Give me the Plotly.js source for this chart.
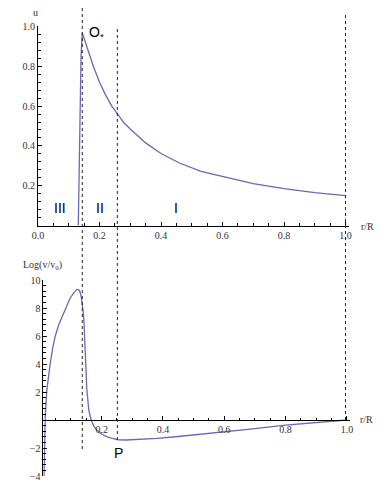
<!DOCTYPE html>
<html>
<head>
<meta charset="utf-8">
<script src="https://cdn.plot.ly/plotly-3.0.1.min.js"></script>
<style>
  html, body { margin: 0; padding: 0; background: white; }
  #figure { width: 386px; height: 491px; }
</style>
</head>
<body>
<div id="figure"></div>
<script>
// Upper panel: u against r/R
const rTop = [0.131, 0.134, 0.137, 0.140, 0.144, 0.150, 0.160, 0.170, 0.180, 0.200,
              0.220, 0.240, 0.258, 0.280, 0.300, 0.350, 0.400, 0.460, 0.530, 0.600,
              0.700, 0.800, 0.900, 1.000];
const uTop = [0.00, 0.30, 0.63, 0.85, 0.968, 0.94, 0.89, 0.845, 0.80, 0.72,
              0.655, 0.60, 0.56, 0.515, 0.485, 0.415, 0.362, 0.314, 0.272, 0.245,
              0.21, 0.185, 0.165, 0.15];

// Lower panel: Log(v/v0) against r/R
const rBottom = [0.012, 0.014, 0.016, 0.021, 0.026, 0.032, 0.040, 0.048, 0.060, 0.075,
                 0.086, 0.097, 0.108, 0.119, 0.125, 0.129, 0.133, 0.137, 0.140, 0.142,
                 0.145, 0.147, 0.149, 0.151, 0.154, 0.158, 0.163, 0.168, 0.175, 0.184,
                 0.200, 0.216, 0.235, 0.254, 0.280, 0.320, 0.380, 0.450, 0.520, 0.600,
                 0.700, 0.800, 0.900, 1.000];
const logV = [-4.0, -1.5, 0.3, 2.1, 3.2, 4.0, 5.1, 5.95, 6.8, 7.6,
              8.2, 8.7, 9.05, 9.33, 9.3, 9.17, 8.85, 8.33, 7.7, 7.14,
              5.9, 4.76, 3.6, 2.38, 1.4, 0.71, 0.25, -0.12, -0.45, -0.71,
              -1.0, -1.19, -1.32, -1.41, -1.43, -1.40, -1.31, -1.18, -1.03, -0.86,
              -0.62, -0.37, -0.17, 0.0];

// Zone boundaries (dotted lines) and zone names
const zoneEdges = [0.144, 0.258, 1.0];
const zoneNames = ['III', 'II', 'I'];
const zoneNameX = [0.07, 0.2, 0.448];

// Tick labels
const topXTicks = [0, 0.2, 0.4, 0.6, 0.8, 1.0];
const topXText = ['0.0', '0.2', '0.4', '0.6', '0.8', '1.0'];
const topYTicks = [0.2, 0.4, 0.6, 0.8, 1.0];
const topYText = ['0.2', '0.4', '0.6', '0.8', '1.0'];
const botXTicks = [0.2, 0.4, 0.6, 0.8, 1.0];
const botXText = ['0.2', '0.4', '0.6', '0.8', '1.0'];
const botYTicks = [-4, -2, 2, 4, 6, 8, 10];

const W = 386, H = 491;
const curveColor = '#6868b8';
const serif = 'Liberation Serif, DejaVu Serif, serif';
const tickFont = { family: serif, size: 10, color: '#3a3030' };
const labelFont = { family: 'Liberation Sans, Arial, sans-serif', size: 14, color: '#000000' };

// pixel helpers for paper coordinates
function px(x) { return x / W; }
function py(y) { return 1 - y / H; }

function axisStyle(extra) {
  let base = {
    showline: true, linecolor: 'black', linewidth: 1,
    ticks: 'inside', ticklen: 4, tickcolor: 'black', tickwidth: 1,
    showgrid: false, zeroline: false,
    tickfont: tickFont,
    fixedrange: true
  };
  return Object.assign(base, extra);
}

var traces = [
  { x: rTop, y: uTop, xaxis: 'x', yaxis: 'y', mode: 'lines',
    line: { color: curveColor, width: 1.3 }, hoverinfo: 'skip' },
  { x: rBottom, y: logV, xaxis: 'x2', yaxis: 'y2', mode: 'lines',
    line: { color: curveColor, width: 1.3 }, hoverinfo: 'skip' }
];

// dotted boundary lines: [top px, bottom px] of each
const edgeSpan = [[8, 449], [27, 440], [15, 420]];
var shapes = zoneEdges.map(function(r, i) {
  return {
    type: 'line', xref: 'x', yref: 'paper',
    x0: r, x1: r, y0: py(edgeSpan[i][1]), y1: py(edgeSpan[i][0]),
    line: { color: '#222', width: 1, dash: 'dot' }
  };
});

var annotations = zoneNames.map(function(name, i) {
  return { text: name, xref: 'x', yref: 'y', x: zoneNameX[i], y: 0.088,
           showarrow: false, font: labelFont, xanchor: 'center', yanchor: 'middle' };
});

function smallText(text, x, y) {
  return { text: text, xref: 'paper', yref: 'paper', x: px(x), y: py(y),
           xanchor: 'center', yanchor: 'middle', showarrow: false,
           font: { family: serif, size: 10, color: '#3a3030' } };
}

annotations.push(
  { text: 'O<sub>*</sub>', xref: 'x', yref: 'y', x: 0.158, y: 0.968,
    showarrow: false, font: labelFont, xanchor: 'left', yanchor: 'middle' },
  { text: 'P', xref: 'x2', yref: 'y2', x: 0.254, y: -2.36,
    showarrow: false, font: labelFont, xanchor: 'center', yanchor: 'middle' },
  smallText('u', 35, 13),
  smallText('r/R', 367, 226),
  smallText('r/R', 366, 419),
  smallText('Log(v/v<sub>0</sub>)', 42, 265)
);

var layout = {
  width: W, height: H,
  margin: { l: 0, r: 0, t: 0, b: 0 },
  paper_bgcolor: 'white', plot_bgcolor: 'white',
  showlegend: false,
  xaxis: axisStyle({
    domain: [px(38), px(348.6)], range: [0, 1.01], anchor: 'y',
    tickvals: topXTicks, ticktext: topXText,
    minor: { dtick: 0.05, ticks: 'inside', ticklen: 2.5, tickcolor: 'black' }
  }),
  yaxis: axisStyle({
    domain: [py(225.5), py(25.5)], range: [0, 1.005], anchor: 'x',
    tickvals: topYTicks, ticktext: topYText,
    minor: { dtick: 0.04, ticks: 'inside', ticklen: 2.5, tickcolor: 'black' }
  }),
  xaxis2: axisStyle({
    domain: [px(43.4), px(350)], range: [0.01, 1.01], anchor: 'free',
    position: py(420),
    tickvals: botXTicks, ticktext: botXText,
    minor: { dtick: 0.05, ticks: 'inside', ticklen: 2.5, tickcolor: 'black' }
  }),
  yaxis2: axisStyle({
    domain: [py(476), py(280)], range: [-4, 10], anchor: 'x2',
    tickvals: botYTicks,
    minor: { dtick: 0.4, ticks: 'inside', ticklen: 2.5, tickcolor: 'black' }
  }),
  shapes: shapes,
  annotations: annotations
};

Plotly.newPlot('figure', traces, layout, { staticPlot: true });
</script>
</body>
</html>
